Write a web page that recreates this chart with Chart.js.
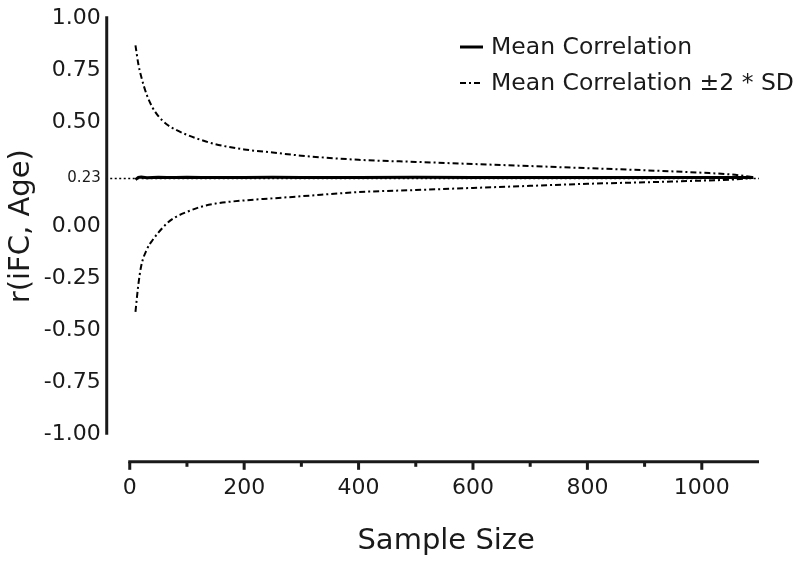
<!DOCTYPE html>
<html>
<head>
<meta charset="utf-8">
<script src="https://cdn.jsdelivr.net/npm/chart.js@4/dist/chart.umd.min.js"></script>
<style>
  html, body { margin: 0; padding: 0; background: #fff; }
  #wrap { width: 800px; height: 563px; position: relative; }
</style>
</head>
<body>
<div id="wrap"><canvas id="chart"></canvas></div>
<script>
// values
const sampleSizes = [10, 15, 20, 30, 40, 50, 65, 80, 100, 125, 150, 200, 250, 300, 400, 500, 600, 700, 800, 900, 1000, 1050, 1090];
const meanR = [0.225, 0.236, 0.238, 0.234, 0.235, 0.236, 0.235, 0.235, 0.236, 0.235, 0.235, 0.235, 0.236, 0.235, 0.235, 0.236, 0.235, 0.235, 0.235, 0.235, 0.235, 0.235, 0.235];
const upperR = [0.87, 0.78, 0.72, 0.63, 0.57, 0.53, 0.49, 0.465, 0.44, 0.415, 0.395, 0.37, 0.355, 0.34, 0.32, 0.31, 0.30, 0.29, 0.28, 0.27, 0.258, 0.25, 0.237];
const lowerR = [-0.41, -0.28, -0.19, -0.11, -0.065, -0.03, 0.015, 0.045, 0.07, 0.095, 0.11, 0.125, 0.135, 0.145, 0.165, 0.175, 0.185, 0.195, 0.205, 0.212, 0.22, 0.225, 0.233];
const referenceR = 0.23;

const yTickValues = [1, 0.75, 0.5, 0.23, 0, -0.25, -0.5, -0.75, -1];
const xTickValues = [0, 100, 200, 300, 400, 500, 600, 700, 800, 900, 1000];
const xLabelStep = 200;

const xMin = -42;
const xMax = 1100;
const yMin = -1.13;
const yMax = 1;

const ink = "#1a1a1a";
const dashDot = [6, 3, 2, 3];

Chart.defaults.font.family = "'DejaVu Sans', sans-serif";
Chart.defaults.color = ink;

const toPoints = (values) => values.map((value, index) => ({ x: sampleSizes[index], y: value }));

// axis lines drawn only over the value range, like the original figure
const axisLinesPlugin = {
    id: "axisLines",
    afterDraw(chart) {
        const { ctx, chartArea } = chart;
        const xScale = chart.scales.x;
        const yScale = chart.scales.y;

        ctx.save();
        ctx.strokeStyle = ink;
        ctx.lineWidth = 3;
        ctx.lineCap = "butt";

        const axisX = chartArea.left + 1;
        ctx.beginPath();
        ctx.moveTo(axisX, yScale.getPixelForValue(1) - 2);
        ctx.lineTo(axisX, yScale.getPixelForValue(-1));
        ctx.stroke();

        const axisY = chartArea.bottom;
        ctx.beginPath();
        ctx.moveTo(xScale.getPixelForValue(0) - 1.5, axisY);
        ctx.lineTo(xScale.getPixelForValue(xMax), axisY);
        ctx.stroke();

        xTickValues.forEach((value) => {
            const tickX = xScale.getPixelForValue(value);
            const tickLength = value % xLabelStep === 0 ? 8 : 5;
            ctx.beginPath();
            ctx.moveTo(tickX, axisY);
            ctx.lineTo(tickX, axisY + tickLength);
            ctx.stroke();
        });
        ctx.restore();
    },
};

// stacked legend in the top right corner
const stackedLegendPlugin = {
    id: "stackedLegend",
    afterDraw(chart) {
        const { ctx } = chart;
        const items = chart.data.datasets.filter((dataset) => dataset.inLegend);
        ctx.save();
        ctx.font = "23.5px 'DejaVu Sans', sans-serif";
        ctx.fillStyle = ink;
        ctx.textBaseline = "middle";
        items.forEach((dataset, index) => {
            const rowY = 47 + index * 36;
            ctx.strokeStyle = dataset.borderColor;
            ctx.lineWidth = dataset.borderWidth;
            ctx.setLineDash(dataset.borderDash ?? []);
            ctx.beginPath();
            ctx.moveTo(460, rowY);
            ctx.lineTo(483, rowY);
            ctx.stroke();
            ctx.setLineDash([]);
            ctx.fillText(dataset.label, 491, rowY + 1);
        });
        ctx.restore();
    },
};

new Chart(document.getElementById("chart"), {
    type: "line",
    data: {
        datasets: [
            {
                label: "Mean Correlation",
                data: toPoints(meanR),
                borderColor: "#000",
                borderWidth: 3,
                pointRadius: 0,
                tension: 0,
                inLegend: true,
            },
            {
                label: "Mean Correlation \u00b12 * SD",
                data: toPoints(upperR),
                borderColor: "#000",
                borderWidth: 2,
                borderDash: dashDot,
                pointRadius: 0,
                cubicInterpolationMode: "monotone",
                inLegend: true,
            },
            {
                label: "Mean Correlation \u00b12 * SD",
                data: toPoints(lowerR),
                borderColor: "#000",
                borderWidth: 2,
                borderDash: dashDot,
                pointRadius: 0,
                cubicInterpolationMode: "monotone",
            },
            {
                label: "r = 0.23",
                data: [{ x: xMin, y: referenceR }, { x: xMax, y: referenceR }],
                borderColor: "#000",
                borderWidth: 1.5,
                borderDash: [2, 2.5],
                pointRadius: 0,
            },
        ],
    },
    options: {
        responsive: true,
        maintainAspectRatio: false,
        animation: false,
        layout: {
            padding: { left: 4, right: 41, top: 4, bottom: 0 },
        },
        plugins: {
            legend: { display: false },
            tooltip: { enabled: false },
        },
        scales: {
            x: {
                type: "linear",
                min: xMin,
                max: xMax,
                afterBuildTicks: (scale) => {
                    scale.ticks = xTickValues.map((value) => ({ value }));
                },
                ticks: {
                    autoSkip: false,
                    maxRotation: 0,
                    padding: 13,
                    font: { size: 22 },
                    callback: (value) => (value % xLabelStep === 0 ? String(value) : ""),
                },
                grid: { display: false, drawTicks: false },
                border: { display: false },
                title: {
                    display: true,
                    text: "   Sample Size",
                    font: { size: 29 },
                    padding: { top: 10, bottom: 4 },
                },
            },
            y: {
                min: yMin,
                max: yMax,
                afterBuildTicks: (scale) => {
                    scale.ticks = yTickValues.map((value) => ({ value }));
                },
                ticks: {
                    padding: 5,
                    font: (context) => ({ size: context.tick && context.tick.value === referenceR ? 15 : 22 }),
                    callback: (value) => Number(value).toFixed(2),
                },
                grid: { display: false, drawTicks: false },
                border: { display: false },
                title: {
                    display: true,
                    text: "   r(iFC, Age)",
                    font: { size: 29 },
                    padding: { top: 0, bottom: 0 },
                },
            },
        },
    },
    plugins: [axisLinesPlugin, stackedLegendPlugin],
});
</script>
</body>
</html>
